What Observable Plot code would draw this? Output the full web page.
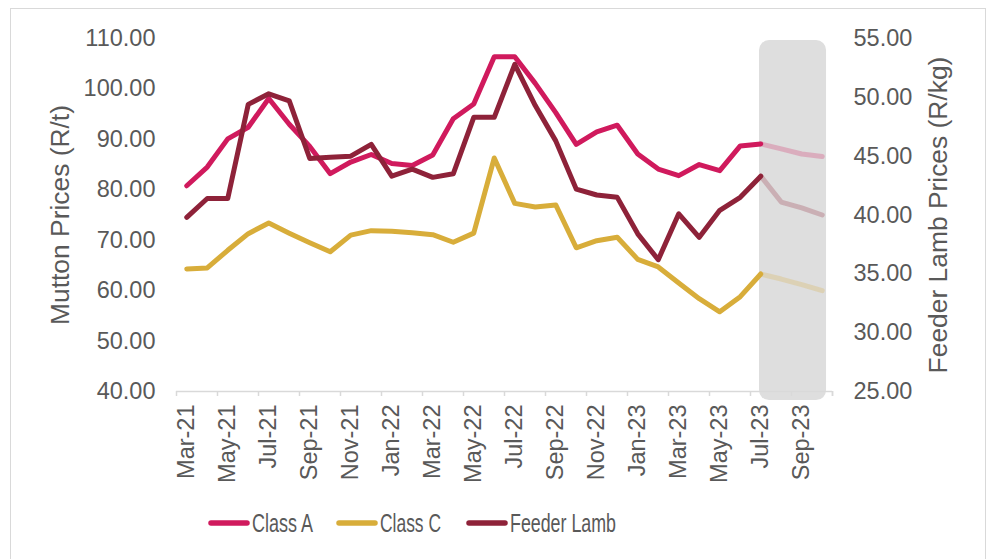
<!DOCTYPE html>
<html>
<head>
<meta charset="utf-8">
<script src="https://cdn.jsdelivr.net/npm/d3@7"></script>
<script src="https://cdn.jsdelivr.net/npm/@observablehq/plot@0.6"></script>
<style>
  html, body { margin: 0; padding: 0; background: #fff; overflow: hidden; }
  body { width: 992px; height: 559px; position: relative; font-family: "Liberation Sans", Arial, sans-serif; }
  #frame { position: absolute; left: 10px; top: 8px; width: 976px; height: 600px; border: 1.5px solid #d9d9d9; box-sizing: border-box; }
  #chart { position: absolute; left: 0; top: 0; }
  #legend { position: absolute; left: 0; top: 500px; }
</style>
</head>
<body>
<div id="frame"></div>
<div id="chart"></div>
<div id="legend"></div>
<script>
// ---- data ----
const months = ["Mar-21","Apr-21","May-21","Jun-21","Jul-21","Aug-21","Sep-21","Oct-21","Nov-21","Dec-21","Jan-22","Feb-22",
                "Mar-22","Apr-22","May-22","Jun-22","Jul-22","Aug-22","Sep-22","Oct-22","Nov-22","Dec-22","Jan-23","Feb-23",
                "Mar-23","Apr-23","May-23","Jun-23","Jul-23","Aug-23","Sep-23","Oct-23"];
// Mutton prices (left axis, R/t)
const classA = [80.8, 84.5, 90.1, 92.4, 98.1, 93.0, 88.6, 83.2, 85.5, 87.0, 85.2, 84.8,
                86.9, 94.1, 97.0, 106.4, 106.4, 101.1, 95.3, 89.0, 91.5, 92.8, 87.1, 84.1,
                82.8, 85.0, 83.8, 88.7, 89.1, 88.1, 87.1, 86.6];
const classC = [64.3, 64.5, 68.0, 71.3, 73.4, 71.4, 69.5, 67.7, 71.0, 71.9, 71.8, 71.5,
                71.1, 69.6, 71.4, 86.3, 77.3, 76.6, 77.0, 68.5, 69.9, 70.6, 66.2, 64.7,
                61.5, 58.4, 55.8, 58.8, 63.3, 62.3, 61.2, 60.0];
// Feeder lamb prices (right axis, R/kg)
const feederLamb = [39.8, 41.4, 41.4, 49.4, 50.3, 49.7, 44.8, 44.9, 45.0, 46.0, 43.3, 43.9,
                    43.2, 43.5, 48.3, 48.3, 52.8, 49.3, 46.3, 42.2, 41.7, 41.5, 38.4, 36.2,
                    40.1, 38.1, 40.4, 41.5, 43.3, 41.1, 40.6, 40.0];
const forecastFrom = "Jul-23";
const leftTicks = [40, 50, 60, 70, 80, 90, 100, 110];
const rightTicks = [25, 30, 35, 40, 45, 50, 55];
const seriesNames = ["Class A", "Class C", "Feeder Lamb"];
const seriesColors = ["#d01a5d", "#d8ad3a", "#8e2239"];

// ---- scales mapping ----
const yLeft = [leftTicks[0], leftTicks[leftTicks.length - 1]];
const yRight = [rightTicks[0], rightTicks[rightTicks.length - 1]];
const k = (yLeft[1] - yLeft[0]) / (yRight[1] - yRight[0]);
const toLeft = v => yLeft[0] + (v - yRight[0]) * k;
const fromLeft = v => yRight[0] + (v - yLeft[0]) / k;

const n = months.length;
const fi = months.indexOf(forecastFrom);
const series = [
  {name: seriesNames[0], values: classA, right: false, color: seriesColors[0]},
  {name: seriesNames[1], values: classC, right: false, color: seriesColors[1]},
  {name: seriesNames[2], values: feederLamb, right: true, color: seriesColors[2]}
];

const boundaries = d3.range(-0.5, n, 2).concat([n - 0.5]);
const labelIdx = d3.range(0, n, 2);

const marks = [];
// forecast band
marks.push(Plot.rect([{x1: fi - 0.06, x2: n - 1 + 0.21, y1: yLeft[0] - 1.8, y2: yLeft[1] - 0.4}],
  {x1: "x1", x2: "x2", y1: "y1", y2: "y2", fill: "#dedede", rx: 10}));
// x axis line and ticks
marks.push(Plot.ruleY([yLeft[0]], {stroke: "#d9d9d9", strokeWidth: 1.5}));
marks.push(Plot.axisX({ticks: boundaries, tickSize: 5, tickFormat: () => "", stroke: "#d9d9d9", strokeWidth: 1.5}));
marks.push(Plot.axisX({ticks: labelIdx, tickSize: 0, tickPadding: 13, tickRotate: -90,
  tickFormat: i => months[i], fontSize: 23.5, fill: "#595959", label: null}));
// y axes
marks.push(Plot.axisY({anchor: "left", ticks: leftTicks, tickSize: 0, tickPadding: 21,
  tickFormat: d => d.toFixed(2), fontSize: 23.5, fill: "#595959", label: null}));
marks.push(Plot.axisY({anchor: "right", ticks: rightTicks.map(toLeft), tickSize: 0, tickPadding: 21,
  tickFormat: d => fromLeft(d).toFixed(2), fontSize: 23.5, fill: "#595959", label: null}));
// axis titles
marks.push(Plot.text(["Mutton Prices (R/t)"], {frameAnchor: "left", dx: -116, rotate: -90,
  textAnchor: "middle", lineAnchor: "middle", text: d => d, fontSize: 26.4, fill: "#595959"}));
marks.push(Plot.text(["Feeder Lamb Prices (R/kg)"], {frameAnchor: "right", dx: 106, rotate: -90,
  textAnchor: "middle", lineAnchor: "middle", text: d => d, fontSize: 26.4, fill: "#595959"}));
// lines
for (const s of series) {
  const pts = s.values.map((v, i) => ({i, y: s.right ? toLeft(v) : v}));
  marks.push(Plot.line(pts.filter(d => d.i <= fi), {x: "i", y: "y", stroke: s.color, strokeWidth: 5,
    strokeLinejoin: "round", strokeLinecap: "round"}));
}
for (const s of series) {
  const pts = s.values.map((v, i) => ({i, y: s.right ? toLeft(v) : v}));
  marks.push(Plot.line(pts.filter(d => d.i >= fi), {x: "i", y: "y", stroke: s.color, strokeWidth: 5,
    strokeOpacity: 0.25, strokeLinejoin: "round", strokeLinecap: "round"}));
}

const chart = Plot.plot({
  width: 992,
  height: 500,
  marginLeft: 176,
  marginRight: 160,
  marginTop: 38,
  marginBottom: 109,
  style: {fontFamily: "'Liberation Sans', Arial, sans-serif", background: "transparent", overflow: "visible"},
  x: {type: "linear", domain: [-0.5, n - 0.5]},
  y: {domain: yLeft},
  marks
});
document.getElementById("chart").appendChild(chart);

// ---- legend ----
const ns = "http://www.w3.org/2000/svg";
const lg = document.createElementNS(ns, "svg");
lg.setAttribute("width", 992);
lg.setAttribute("height", 50);
const legendX = [208, 336, 466];
const legendTextW = [61, 61, 106];
seriesNames.forEach((name, j) => {
  const line = document.createElementNS(ns, "line");
  line.setAttribute("x1", legendX[j] + 3);
  line.setAttribute("x2", legendX[j] + 39);
  line.setAttribute("y1", 23);
  line.setAttribute("y2", 23);
  line.setAttribute("stroke", seriesColors[j]);
  line.setAttribute("stroke-width", 5.5);
  line.setAttribute("stroke-linecap", "round");
  lg.appendChild(line);
  const t = document.createElementNS(ns, "text");
  t.setAttribute("x", legendX[j] + 44);
  t.setAttribute("y", 23);
  t.setAttribute("dy", "0.36em");
  t.setAttribute("font-size", 25);
  t.setAttribute("fill", "#595959");
  t.setAttribute("font-family", "'Liberation Sans', Arial, sans-serif");
  t.setAttribute("textLength", legendTextW[j]);
  t.setAttribute("lengthAdjust", "spacingAndGlyphs");
  t.textContent = name;
  lg.appendChild(t);
});
document.getElementById("legend").appendChild(lg);
</script>
</body>
</html>
